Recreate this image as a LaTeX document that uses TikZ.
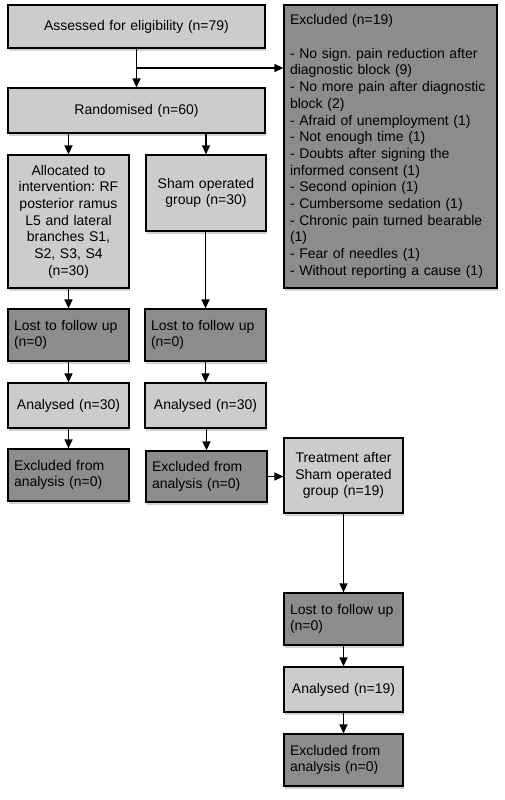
\documentclass[tikz,border=0pt]{standalone}
\usepackage{fontspec}
\setmainfont{Liberation Sans}
\usetikzlibrary{shadows,arrows.meta,calc}

\definecolor{boxlight}{gray}{0.80}
\definecolor{boxdark}{gray}{0.55}

\tikzset{
  box/.style={draw=black, line width=1.2pt, inner xsep=6pt, inner ysep=0pt,
    font=\fontsize{14}{16.7}\selectfont\frenchspacing,
    drop shadow={shadow xshift=1pt, shadow yshift=-3pt, opacity=0.35}},
  lightbox/.style={box, fill=boxlight, align=center},
  darkbox/.style={box, fill=boxdark, align=left},
  arr/.style={line width=1.3pt, -{Triangle[length=9pt,width=8pt]}}
}

\begin{document}
\begin{tikzpicture}[x=1pt, y=-1pt]
  \useasboundingbox[fill=white] (0,0) rectangle (505,800);

  % Enrolment
  \node[lightbox, minimum width=257pt, minimum height=43pt, text width=245pt] (assess) at (136.5,26.5)
    {Assessed for eligibility (n=79)};
  \node[darkbox, minimum width=213pt, minimum height=283pt, text width=201pt] (excl) at (390.5,146.5)
    {Excluded (n=19)\\[16.7pt]
     - No sign. pain reduction after\\ diagnostic block (9)\\
     - No more pain after diagnostic\\ block (2)\\
     - Afraid of unemployment (1)\\
     - Not enough time (1)\\
     - Doubts after signing the\\ informed consent (1)\\
     - Second opinion (1)\\
     - Cumbersome sedation (1)\\
     - Chronic pain turned bearable\\ (1)\\
     - Fear of needles (1)\\
     - Without reporting a cause (1)};
  \node[lightbox, minimum width=257pt, minimum height=45pt, text width=245pt] (rand) at (136.5,110.5)
    {Randomised (n=60)};

  % Allocation
  \node[lightbox, minimum width=121pt, minimum height=133pt, text width=109pt] (alloc) at (68.5,221.5)
    {Allocated to\\ intervention: RF\\ posterior ramus\\ L5 and lateral\\ branches S1,\\ S2, S3, S4\\ (n=30)};
  \node[lightbox, minimum width=120pt, minimum height=76pt, text width=108pt] (sham) at (206,193)
    {Sham operated\\ group (n=30)};

  % Follow up and analysis
  \node[darkbox, minimum width=121pt, minimum height=52pt, text width=109pt] (lost1) at (68.5,335)
    {Lost to follow up\\ (n=0)};
  \node[darkbox, minimum width=121pt, minimum height=52pt, text width=109pt] (lost2) at (205.5,335)
    {Lost to follow up\\ (n=0)};
  \node[lightbox, minimum width=121pt, minimum height=45pt, text width=109pt] (ana1) at (68.5,405.5)
    {Analysed (n=30)};
  \node[lightbox, minimum width=121pt, minimum height=45pt, text width=109pt] (ana2) at (205.5,405.5)
    {Analysed (n=30)};
  \node[darkbox, minimum width=121pt, minimum height=52pt, text width=109pt] (exa1) at (68.5,475)
    {Excluded from\\ analysis (n=0)};
  \node[darkbox, minimum width=121pt, minimum height=51pt, text width=109pt] (exa2) at (206.5,476.5)
    {Excluded from\\ analysis (n=0)};

  % Treatment after sham
  \node[lightbox, minimum width=119pt, minimum height=75pt, text width=107pt] (treat) at (343.5,475.5)
    {Treatment after\\ Sham operated\\ group (n=19)};
  \node[darkbox, minimum width=119pt, minimum height=52pt, text width=107pt] (lost3) at (343.5,619)
    {Lost to follow up\\ (n=0)};
  \node[lightbox, minimum width=119pt, minimum height=45pt, text width=107pt] (ana3) at (343.5,689.5)
    {Analysed (n=19)};
  \node[darkbox, minimum width=119pt, minimum height=52pt, text width=107pt] (exa3) at (343.5,760)
    {Excluded from\\ analysis (n=0)};

  % Connectors
  \coordinate (split) at ($(assess.south)!0.5!(rand.north)$);
  \draw[arr] (assess) -- (rand);
  \draw[arr] (split) -- (split -| excl.west);
  \draw[arr] (alloc.north |- rand.south) -- (alloc.north);
  \draw[arr] (sham.north |- rand.south) -- (sham.north);
  \foreach \a/\b in {alloc/lost1, lost1/ana1, ana1/exa1, sham/lost2, lost2/ana2, ana2/exa2,
                     treat/lost3, lost3/ana3, ana3/exa3}
    \draw[arr] (\b.north |- \a.south) -- (\b.north);
  \draw[arr] (exa2.east) -- (exa2.east -| treat.west);
\end{tikzpicture}
\end{document}
